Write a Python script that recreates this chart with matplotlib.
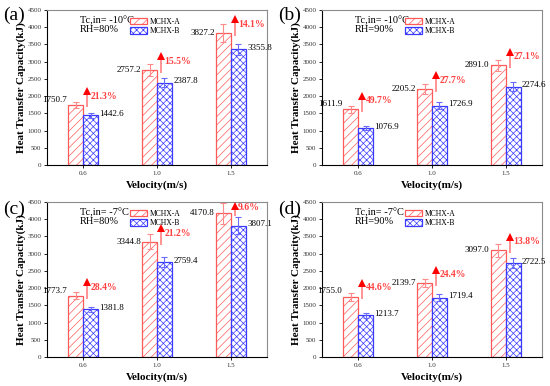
import matplotlib
matplotlib.use("Agg")
import matplotlib.pyplot as plt
from matplotlib.patches import Patch

plt.rcParams['font.family'] = ['Liberation Serif', 'DejaVu Serif']
plt.rcParams['hatch.linewidth'] = 0.5

velocity = ["0.6", "1.0", "1.5"]

panel_tags = ["(a)", "(b)", "(c)", "(d)"]
tc_labels = ["Tc,in= -10°C", "Tc,in= -10°C", "Tc,in= -7°C", "Tc,in= -7°C"]
rh_labels = ["RH=80%", "RH=90%", "RH=80%", "RH=90%"]

mchx_a = [
    [1750.7, 2757.2, 3827.2],
    [1611.9, 2205.2, 2891.0],
    [1773.7, 3344.8, 4170.8],
    [1755.0, 2139.7, 3097.0],
]
mchx_b = [
    [1442.6, 2387.8, 3355.8],
    [1076.9, 1726.9, 2274.6],
    [1381.8, 2759.4, 3807.1],
    [1213.7, 1719.4, 2722.5],
]
err_a = [
    [90, 165, 265],
    [90, 145, 165],
    [100, 220, 300],
    [115, 115, 195],
]
err_b = [
    [77, 130, 160],
    [50, 100, 135],
    [70, 155, 245],
    [77, 97, 145],
]
gains = [
    ["21.3%", "15.5%", "14.1%"],
    ["49.7%", "27.7%", "27.1%"],
    ["28.4%", "21.2%", "9.6%"],
    ["44.6%", "24.4%", "13.8%"],
]

RED = '#ff5a5a'
BLUE = '#3a3aff'
w = 0.2

fig = plt.figure(figsize=(5.5, 3.86), dpi=100)
rects = [
    [0.0855, 0.5725, 0.40, 0.4016],
    [0.5855, 0.5725, 0.40, 0.4016],
    [0.0855, 0.0751, 0.40, 0.4016],
    [0.5855, 0.0751, 0.40, 0.4016],
]
tag_pos = [(0.026, 0.961), (0.526, 0.961), (0.026, 0.458), (0.526, 0.458)]

for k in range(4):
    ax = fig.add_axes(rects[k])
    x = list(range(len(velocity)))
    xa = [i - w / 2 for i in x]
    xb = [i + w / 2 for i in x]

    ax.bar(xa, mchx_a[k], w, color='white', edgecolor=RED, hatch='////', lw=0.9, zorder=2)
    ax.bar(xb, mchx_b[k], w, color='white', edgecolor=BLUE, hatch='xxxxx', lw=0.9, zorder=2)
    ax.errorbar(xa, mchx_a[k], yerr=err_a[k], fmt='none', ecolor='#ff8a8a',
                elinewidth=0.8, capsize=2, capthick=0.8, zorder=3)
    ax.errorbar(xb, mchx_b[k], yerr=err_b[k], fmt='none', ecolor='#6a6aff',
                elinewidth=0.8, capsize=2, capthick=0.8, zorder=3)

    for i in x:
        a = mchx_a[k][i]
        b = mchx_b[k][i]
        ya = a + 150 if i == 0 else a
        ax.text(i - w - 0.02, ya, f"{a:.1f}", ha='right', va='center', fontsize=6.5)
        ax.text(i + w + 0.02, b + 40, f"{b:.1f}", ha='left', va='center', fontsize=6.5)
        # rising arrow: pale shaft with a solid red head
        tip = min(a + 500, 4470)
        ax.vlines(i + 0.05, a - 80, tip - 150, color='#ff8080', lw=1.2, zorder=4)
        ax.plot(i + 0.05, tip - 100, marker='^', ms=5.5, color='red', mew=0, zorder=5)
        ax.text(i + 0.1, min(a + 250, 4330), gains[k][i], color='#ff4040',
                fontsize=7, fontweight='bold', va='center', ha='left')

    ax.text(0.15, 0.965, tc_labels[k] + "\n" + rh_labels[k], transform=ax.transAxes,
            fontsize=7.5, va='top', ha='left', linespacing=0.95)

    handles = [Patch(facecolor='white', edgecolor=RED, hatch='////', lw=0.9),
               Patch(facecolor='white', edgecolor=BLUE, hatch='xxxxx', lw=0.9)]
    ax.legend(handles, ["MCHX-A", "MCHX-B"], loc='upper left', bbox_to_anchor=(0.355, 0.985),
              frameon=False, fontsize=5.5, handlelength=2.2, handleheight=0.9,
              labelspacing=0.2, handletextpad=0.3, borderpad=0.2)

    ax.set_xlim(-0.49, 2.49)
    ax.set_ylim(0, 4500)
    ax.set_yticks(range(0, 4501, 500))
    ax.set_xticks(x)
    ax.set_xticklabels(velocity)
    ax.tick_params(labelsize=5, length=2.5, width=0.6, pad=1.5, labelcolor='#333333')
    for s in ['top', 'right']:
        ax.spines[s].set_color('#8c8c8c')
        ax.spines[s].set_linewidth(0.8)
    for s in ['left', 'bottom']:
        ax.spines[s].set_linewidth(0.8)

    ax.set_ylabel("Heat Transfer Capacity(kJ)", fontsize=8, fontweight='bold')
    ax.set_xlabel("Velocity(m/s)", fontsize=8, fontweight='bold')
    ax.yaxis.set_label_coords(-0.095, 0.5)
    ax.xaxis.set_label_coords(0.5, -0.1)

    fig.text(tag_pos[k][0], tag_pos[k][1], panel_tags[k], fontsize=14, ha='center', va='center')

fig.savefig("out.png", dpi=100)
